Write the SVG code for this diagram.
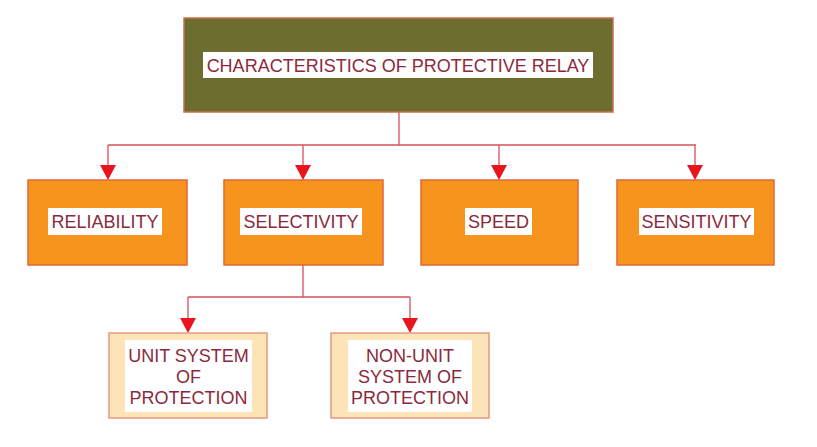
<svg xmlns="http://www.w3.org/2000/svg" width="817" height="447" viewBox="0 0 817 447">
<defs>
<style>
.t{font-family:"Liberation Sans",Arial,sans-serif;font-size:18px;fill:#8a2a3c;text-anchor:middle}
.lb{fill:#ffffff}
.ob{fill:#f7941d;stroke:#e2673a;stroke-width:1.5}
.lt{fill:#fde3b8;stroke:#e39a80;stroke-width:1.5}
.c{fill:none;stroke:#d8505a;stroke-width:1.3}
.ah{fill:#e8141e}
</style>
</defs>
<rect width="817" height="447" fill="#ffffff"/>
<g id="connectors">
<path class="c" d="M399,112 V145 M108,145 H696"/>
<path class="c" d="M108,145 V170"/>
<path class="c" d="M303,145 V170"/>
<path class="c" d="M499,145 V170"/>
<path class="c" d="M695,145 V170"/>
<path class="c" d="M303,265 V297 M188,297 H410 M188,297 V323 M410,297 V323"/>
<path class="ah" d="M100,165 L116,165 L108,180 Z"/>
<path class="ah" d="M295,165 L311,165 L303,180 Z"/>
<path class="ah" d="M491,165 L507,165 L499,180 Z"/>
<path class="ah" d="M687,165 L703,165 L695,180 Z"/>
<path class="ah" d="M180,318 L196,318 L188,333 Z"/>
<path class="ah" d="M402,318 L418,318 L410,333 Z"/>
</g>
<g id="root">
<rect x="184" y="18" width="429" height="94" fill="#6e6d30" stroke="#c8704e" stroke-width="1.5"/>
<rect class="lb" x="203" y="52" width="390" height="26"/>
<text class="t" x="398" y="71.5">CHARACTERISTICS OF PROTECTIVE RELAY</text>
</g>
<g id="reliability">
<rect class="ob" x="28" y="180" width="159" height="85"/>
<rect class="lb" x="48" y="208" width="114" height="27"/>
<text class="t" x="105" y="228">RELIABILITY</text>
</g>
<g id="selectivity">
<rect class="ob" x="224" y="180" width="159" height="85"/>
<rect class="lb" x="240" y="208" width="122" height="27"/>
<text class="t" x="301" y="228">SELECTIVITY</text>
</g>
<g id="speed">
<rect class="ob" x="421" y="180" width="157" height="85"/>
<rect class="lb" x="465" y="208" width="67" height="27"/>
<text class="t" x="498.5" y="228">SPEED</text>
</g>
<g id="sensitivity">
<rect class="ob" x="617" y="180" width="157" height="85"/>
<rect class="lb" x="639" y="208" width="115" height="27"/>
<text class="t" x="696.5" y="228">SENSITIVITY</text>
</g>
<g id="unit">
<rect class="lt" x="109" y="333" width="158" height="85"/>
<rect class="lb" x="125" y="340" width="127" height="72"/>
<text class="t" x="188.5" y="362">UNIT SYSTEM</text>
<text class="t" x="188.5" y="383">OF</text>
<text class="t" x="188.5" y="404">PROTECTION</text>
</g>
<g id="nonunit">
<rect class="lt" x="331" y="333" width="158" height="85"/>
<rect class="lb" x="348" y="340" width="124" height="72"/>
<text class="t" x="410" y="362">NON-UNIT</text>
<text class="t" x="410" y="383">SYSTEM OF</text>
<text class="t" x="410" y="404">PROTECTION</text>
</g>
</svg>
